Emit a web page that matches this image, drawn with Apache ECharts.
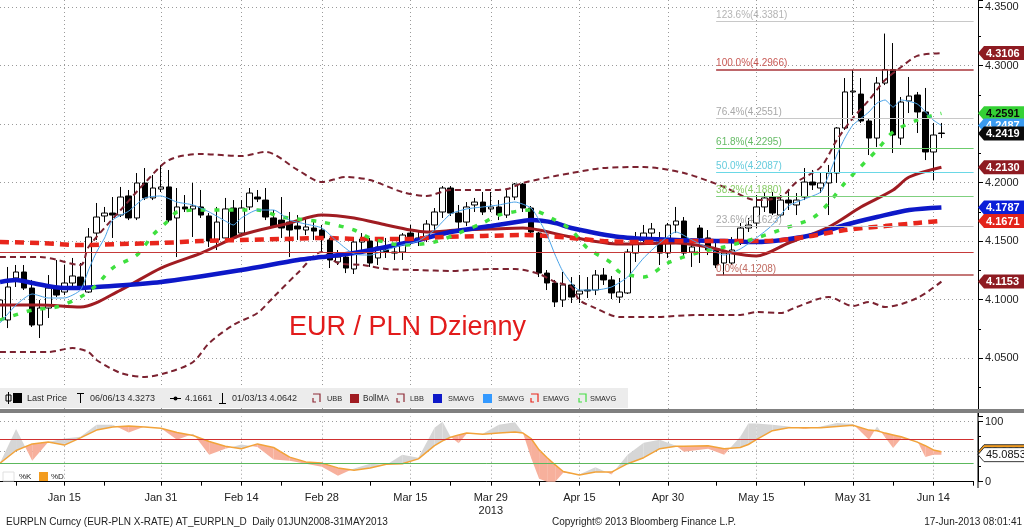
<!DOCTYPE html>
<html>
<head>
<meta charset="utf-8">
<title>EURPLN Curncy</title>
<script src="https://cdn.jsdelivr.net/npm/echarts@6.0.0/dist/echarts.min.js"></script>
<style>
html,body{margin:0;padding:0;background:#fff;}
#chart{width:1024px;height:530px;}
</style>
</head>
<body>
<div id="chart"></div>
<script>
// ================= DATA =================
// Trading days are weekdays of 2013 numbered with Jan 1 = 0; the x axis starts on day 2 (Jan 3).
const axisFirstDay = [2013, 0, 3];
const axisLastDay = [2013, 5, 21];
const monthNames = ['Jan','Feb','Mar','Apr','May','Jun','Jul','Aug','Sep','Oct','Nov','Dec'];
const labelDates = ['Jan 15','Jan 31','Feb 14','Feb 28','Mar 15','Mar 29','Apr 15','Apr 30','May 15','May 31','Jun 14'];
const minorTickDates = ['Jan 7','Jan 22','Feb 7','Feb 21','Mar 8','Mar 22','Apr 8','Apr 22','May 8','May 23','Jun 7','Jun 21'];
const yearUnderDate = 'Mar 29';
const yearText = '2013';

// Daily candles, Jan 3 .. Jun 17 2013
const candleOpen = [4.0825,4.0825,4.1184,4.1235,4.1098,4.0782,4.0927,4.1107,4.1064,4.1141,
4.1192,4.1064,4.1568,4.1714,4.1739,4.1722,4.1885,4.1697,4.1996,4.1868,
4.1944,4.1962,4.1697,4.1791,4.1774,4.1791,4.1714,4.1509,4.1526,4.1782,
4.1568,4.1791,4.1876,4.1850,4.1697,4.1679,4.1662,4.1628,4.1594,4.1611,
4.1594,4.1509,4.1321,4.1363,4.1261,4.1491,4.1500,4.1355,4.1423,4.1406,
4.1406,4.1568,4.1509,4.1526,4.1637,4.1748,4.1953,4.1739,4.1662,4.1808,
4.1833,4.1774,4.1791,4.1722,4.1876,4.1987,4.1782,4.1568,4.1226,4.1141,
4.0996,4.1124,4.1047,4.1081,4.1081,4.1209,4.1167,4.1021,4.1056,4.1397,
4.1526,4.1568,4.1491,4.1397,4.1637,4.1671,4.1406,4.1611,4.1526,4.1423,
4.1312,4.1312,4.1491,4.1611,4.1654,4.1791,4.1876,4.1722,4.1850,4.1808,
4.1876,4.2004,4.1953,4.1996,4.2081,4.2466,4.2774,4.2756,4.2526,4.2380,
4.2850,4.2966,4.2380,4.2697,4.2748,4.2603,4.2261,4.2423];
const candleClose = [4.0996,4.1107,4.1235,4.1098,4.0782,4.0927,4.1098,4.1038,4.1141,4.1201,
4.1107,4.1534,4.1705,4.1739,4.1722,4.1876,4.1697,4.1996,4.1868,4.1953,
4.1962,4.1679,4.1791,4.1774,4.1799,4.1722,4.1500,4.1662,4.1774,4.1526,
4.1782,4.1910,4.1859,4.1705,4.1628,4.1611,4.1594,4.1603,4.1620,4.1585,
4.1526,4.1338,4.1363,4.1269,4.1491,4.1517,4.1312,4.1449,4.1406,4.1397,
4.1551,4.1491,4.1526,4.1645,4.1748,4.1953,4.1739,4.1662,4.1791,4.1833,
4.1748,4.1791,4.1722,4.1876,4.1987,4.1782,4.1577,4.1226,4.1141,4.0979,
4.1124,4.1021,4.1073,4.1073,4.1209,4.1167,4.1056,4.1064,4.1406,4.1483,
4.1568,4.1603,4.1397,4.1637,4.1671,4.1397,4.1449,4.1526,4.1423,4.1295,
4.1397,4.1423,4.1611,4.1637,4.1791,4.1868,4.1739,4.1850,4.1825,4.1850,
4.2004,4.1979,4.1996,4.2081,4.2466,4.2774,4.2782,4.2526,4.2380,4.2850,
4.2966,4.2406,4.2688,4.2739,4.2603,4.2261,4.2406,4.2419];
const candleLow = [4.0642,4.0756,4.1107,4.1081,4.0765,4.0671,4.0842,4.1021,4.1038,4.1098,
4.1081,4.1056,4.1509,4.1662,4.1526,4.1705,4.1679,4.1679,4.1850,4.1850,
4.1919,4.1662,4.1363,4.1748,4.1534,4.1697,4.1449,4.1423,4.1509,4.1500,
4.1543,4.1765,4.1833,4.1679,4.1611,4.1526,4.1363,4.1509,4.1551,4.1509,
4.1406,4.1269,4.1295,4.1226,4.1218,4.1423,4.1278,4.1295,4.1355,4.1338,
4.1338,4.1466,4.1457,4.1491,4.1577,4.1697,4.1714,4.1568,4.1628,4.1748,
4.1722,4.1748,4.1679,4.1697,4.1850,4.1748,4.1543,4.1192,4.1081,4.0936,
4.0936,4.0970,4.0970,4.1013,4.1038,4.1124,4.1004,4.0970,4.1047,4.1321,
4.1491,4.1491,4.1295,4.1355,4.1568,4.1372,4.1278,4.1312,4.1380,4.1269,
4.1208,4.1295,4.1466,4.1577,4.1611,4.1748,4.1722,4.1697,4.1765,4.1722,
4.1850,4.1936,4.1910,4.1722,4.1996,4.2449,4.2577,4.2509,4.2235,4.2303,
4.2833,4.2252,4.2321,4.2594,4.2423,4.2192,4.2021,4.2380];
const candleHigh = [4.1064,4.1278,4.1295,4.1295,4.1167,4.0996,4.1209,4.1338,4.1295,4.1355,
4.1312,4.1611,4.1825,4.1791,4.1876,4.1962,4.1936,4.2081,4.2124,4.2064,
4.2150,4.2107,4.1953,4.1893,4.1996,4.1936,4.1739,4.1791,4.1868,4.1850,
4.1850,4.1953,4.1936,4.1953,4.1765,4.1876,4.1748,4.1722,4.1697,4.1662,
4.1637,4.1526,4.1423,4.1406,4.1534,4.1568,4.1526,4.1509,4.1526,4.1457,
4.1568,4.1637,4.1577,4.1679,4.1782,4.1970,4.1970,4.1808,4.1833,4.1868,
4.1919,4.1919,4.1850,4.1936,4.1996,4.1996,4.1799,4.1577,4.1252,4.1167,
4.1235,4.1192,4.1209,4.1192,4.1252,4.1269,4.1201,4.1184,4.1432,4.1577,
4.1637,4.1654,4.1577,4.1654,4.1791,4.1705,4.1491,4.1637,4.1594,4.1509,
4.1423,4.1534,4.1654,4.1697,4.1893,4.1919,4.1919,4.1893,4.1936,4.1910,
4.2124,4.2107,4.2081,4.2150,4.2474,4.2893,4.2962,4.2893,4.2551,4.2902,
4.3273,4.3192,4.2731,4.2902,4.2774,4.2808,4.2509,4.2509];

// Studies, read at the listed trading days
const ubbDays = [2,7,12,13,17,20,23,27,32,35,39,42,45,48,52,55,58,63,65,67,71,73,77,82,87,92,96,99,101,104,106,108,110,112,114,116,119];
const ubbVals = [4.1363,4.1363,4.1295,4.1449,4.1765,4.1996,4.2192,4.2244,4.2226,4.2261,4.2107,4.2004,4.2047,4.2021,4.1919,4.1885,4.1936,4.1936,4.1944,4.1996,4.2056,4.2081,4.2124,4.2132,4.2081,4.1962,4.1850,4.1876,4.2004,4.2132,4.2363,4.2551,4.2705,4.2876,4.2987,4.3082,4.3106];
const bollDays = [2,7,12,17,22,27,32,38,42,46,50,53,55,59,63,67,69,73,79,86,90,93,96,100,105,109,113,115,119];
const bollVals = [4.0953,4.0953,4.0936,4.1081,4.1269,4.1397,4.1551,4.1654,4.1722,4.1697,4.1637,4.1594,4.1577,4.1594,4.1603,4.1611,4.1594,4.1534,4.1474,4.1483,4.1449,4.1397,4.1372,4.1483,4.1620,4.1791,4.1936,4.2047,4.2130];
const lbbDays = [2,8,11,13,14,17,20,23,26,28,31,34,36,39,42,44,47,50,54,58,63,66,69,71,73,74,76,79,83,89,94,96,99,101,105,108,110,112,116,119];
const lbbVals = [4.0551,4.0551,4.0585,4.0551,4.0483,4.0372,4.0338,4.0380,4.0466,4.0628,4.0782,4.0885,4.1021,4.1226,4.1406,4.1312,4.1295,4.1261,4.1252,4.1244,4.1261,4.1261,4.1218,4.1150,4.1107,4.0996,4.0927,4.0850,4.0850,4.0868,4.0868,4.0893,4.0885,4.0936,4.1021,4.0944,4.0979,4.0936,4.1013,4.1153];
const smaBlueDays = [2,4,6,10,12,14,22,32,39,42,46,50,54,58,63,67,68,71,73,79,86,92,96,103,107,111,115,119];
const smaBlueVals = [4.1150,4.1167,4.1141,4.1098,4.1098,4.1107,4.1150,4.1252,4.1338,4.1363,4.1397,4.1449,4.1509,4.1577,4.1628,4.1671,4.1679,4.1654,4.1611,4.1534,4.1509,4.1500,4.1491,4.1551,4.1637,4.1705,4.1765,4.1787];
const smaLightDays = [2,4,6,8,10,12,13,14,15,16,18,20,22,24,26,28,30,31,32,34,36,38,40,42,44,46,48,50,52,54,56,58,60,62,64,66,68,69,70,71,72,74,76,78,80,82,84,86,88,90,92,94,96,98,100,102,104,105,106,107,108,110,111,112,113,114,116,118,119];
const smaLightVals = [4.0799,4.0953,4.1047,4.1013,4.1013,4.1081,4.1252,4.1406,4.1526,4.1679,4.1756,4.1868,4.1885,4.1833,4.1808,4.1748,4.1671,4.1637,4.1697,4.1765,4.1765,4.1679,4.1645,4.1611,4.1491,4.1389,4.1380,4.1423,4.1466,4.1500,4.1594,4.1731,4.1774,4.1791,4.1808,4.1833,4.1782,4.1679,4.1551,4.1380,4.1235,4.1081,4.1081,4.1107,4.1192,4.1355,4.1483,4.1577,4.1509,4.1440,4.1380,4.1432,4.1526,4.1637,4.1799,4.1859,4.1919,4.2064,4.2235,4.2380,4.2491,4.2603,4.2679,4.2705,4.2645,4.2705,4.2671,4.2534,4.2487];
const emaDays = [2,7,12,17,22,27,32,37,42,47,52,57,62,67,70,73,77,82,87,92,97,102,107,112,116,119];
const emaVals = [4.1491,4.1483,4.1466,4.1474,4.1483,4.1500,4.1509,4.1517,4.1526,4.1517,4.1517,4.1534,4.1543,4.1551,4.1543,4.1526,4.1500,4.1491,4.1500,4.1500,4.1500,4.1534,4.1594,4.1628,4.1654,4.1671];
const smaGreenDays = [2,6,9,12,14,16,19,21,23,24,27,32,34,37,42,46,48,52,56,59,62,64,68,71,73,75,78,79,82,85,89,92,96,100,103,105,107,111,113,116,119];
const smaGreenVals = [4.0825,4.0910,4.0936,4.1021,4.1124,4.1269,4.1380,4.1551,4.1679,4.1748,4.1765,4.1765,4.1765,4.1705,4.1662,4.1594,4.1526,4.1466,4.1491,4.1568,4.1654,4.1722,4.1765,4.1679,4.1594,4.1440,4.1312,4.1235,4.1192,4.1312,4.1406,4.1449,4.1526,4.1620,4.1697,4.1825,4.1996,4.2278,4.2432,4.2534,4.2591];

// Fibonacci retracement levels
const fibStartDay = 91;
const fibNames = ['123.6%','100.0%','76.4%','61.8%','50.0%','38.2%','23.6%','0.0%'];
const fibValues = [4.3381,4.2966,4.2551,4.2295,4.2087,4.1880,4.1623,4.1208];
const refLevel = 4.1365;

// Last-value tags on the price axis
const tagValues = [4.3106,4.2591,4.2487,4.2419,4.2130,4.1787,4.1671,4.1153];

// Stochastics panel
const stochDays = [2,4,6,8,10,12,14,16,18,20,22,24,26,28,30,32,34,36,38,40,42,44,46,48,50,52,54,56,57,58,59,60,62,64,66,67,68,69,70,71,72,74,76,78,80,82,84,86,87,90,92,94,95,96,98,100,102,104,106,108,110,111,112,113,114,116,117,118,119];
const stochK = [31,88,35,66,72,75,95,95,82,92,89,70,80,45,55,62,58,37,35,30,25,10,22,30,28,45,40,90,100,75,64,80,80,95,99,81,40,5,0,0,15,12,24,12,45,65,70,60,50,55,45,75,97,97,95,92,88,92,98,96,70,92,74,56,72,68,41,45,45.0853];
const stochD = [31,52,63,66,61,73,86,91,93,91,89,82,77,67,59,55,63,57,41,33,31,23,19,23,29,30,38,60,68,74,78,81,79,81,83,81,72,53,40,28,17,11,16,16,30,40,55,59,59,60,55,57,62,70,85,90,90,90,92,94,86,85,81,78,75,66,60,53,50];
const stochUpper = 70, stochLower = 30;

// Text
const legendTexts = ['Last Price','06/06/13 4.3273','4.1661','01/03/13 4.0642','UBB','BollMA','LBB','SMAVG','SMAVG','EMAVG','SMAVG'];
const titleText = 'EUR / PLN Dzienny';
const footerLeft = 'EURPLN Curncy (EUR-PLN X-RATE) AT_EURPLN_D  Daily 01JUN2008-31MAY2013';
const footerMid = 'Copyright\u00a9 2013 Bloomberg Finance L.P.';
const footerRight = '17-Jun-2013 08:01:41';

// ================= BUILD =================
const categories = [];
(function () {
  const d = new Date(Date.UTC(axisFirstDay[0], axisFirstDay[1], axisFirstDay[2]));
  const end = Date.UTC(axisLastDay[0], axisLastDay[1], axisLastDay[2]);
  while (d.getTime() <= end) {
    const w = d.getUTCDay();
    if (w !== 0 && w !== 6) categories.push(monthNames[d.getUTCMonth()] + ' ' + d.getUTCDate());
    d.setUTCDate(d.getUTCDate() + 1);
  }
})();
const DAY0 = 2;
const pairs = (days, vals) => days.map((d, j) => [d - DAY0, vals[j]]);

const FONT = '"Liberation Sans", Arial, sans-serif';
const AX_OFF = 4.4;
const GRID_W = 973.6;
const DOT = [1, 3];
const GRIDC = '#9a9a9a';

const fibLine = ['#c8c8c8','#a8343a','#c8c8c8','#6ccc6c','#6ad8e6','#7fd07f','#c4c4c4','#b04a4a'];
const fibText = ['#b4b4b4','#c85a55','#a8a8a8','#66bb66','#66ccdd','#88cc66','#a8a8a8','#c06a60'];
const tagFill = ['#8e1b22','#35d135','#3a9bf0','#0a0a0a','#8e1b22','#0a1ed8','#e3241b','#8e1b22'];
const tagTextC = ['#fff','#0a0a0a','#fff','#fff','#fff','#fff','#fff','#fff'];

function tagRenderer(fills, texts, strokes, font) {
  return function (params, api) {
    const v = api.value(1);
    const y = api.coord([0, v])[1];
    const x0 = params.coordSys.x + params.coordSys.width + AX_OFF;
    const h = 7, i = params.dataIndex;
    return { type: 'group', children: [
      { type: 'polygon', shape: { points: [[x0, y], [x0 + 6, y - h], [x0 + 70, y - h], [x0 + 70, y + h], [x0 + 6, y + h]] },
        style: { fill: fills[i], stroke: strokes ? strokes[i] : null, lineWidth: 1 } },
      { type: 'text', style: { text: v.toFixed(4), x: x0 + 8, y: y + 0.5, verticalAlign: 'middle', align: 'left', fill: texts[i], font: font } }
    ] };
  };
}

const fibMarks = fibValues.map((v, j) => [
  { coord: [fibStartDay - DAY0, v], lineStyle: { color: fibLine[j], width: (j === 1 || j === 7) ? 1.6 : 1.2, type: 'solid' },
    label: { show: true, position: 'insideStartTop', distance: [0, 1], formatter: fibNames[j] + '(' + v.toFixed(4) + ')',
             color: fibText[j], fontSize: 10, fontFamily: FONT } },
  { coord: [categories.length - 1, v] }
]);

const stochSegs = [];
for (let j = 0; j < stochDays.length - 1; j++) {
  stochSegs.push([stochDays[j] - DAY0, stochK[j], stochD[j], stochDays[j + 1] - DAY0, stochK[j + 1], stochD[j + 1]]);
}

function lineSeries(name, days, vals, color, width, type, smooth) {
  return { name, type: 'line', xAxisIndex: 0, yAxisIndex: 0, data: pairs(days, vals), symbol: 'none', smooth: smooth,
           lineStyle: { color, width, type }, silent: true, z: 3 };
}

const LY = 398.5;
function legText(t, x, size) { return { type: 'text', style: { text: t, x: x, y: LY, verticalAlign: 'middle', font: (size || 9) + 'px ' + FONT, fill: '#2a2a2a' }, z: 31 }; }
function legBracket(x, color) {
  return [
    { type: 'polyline', shape: { points: [[x, 394], [x + 7, 394], [x + 7, 402]] }, style: { stroke: color, lineWidth: 1.2, fill: 'none' }, z: 31 },
    { type: 'polyline', shape: { points: [[x, 398], [x, 402], [x + 3, 402]] }, style: { stroke: color, lineWidth: 1.2, fill: 'none' }, z: 31 }
  ];
}
const UP = 7.4; // the study names are set in a narrower face in the reference

const option = {
  animation: false,
  backgroundColor: '#ffffff',
  textStyle: { fontFamily: FONT },
  grid: [
    { left: 0, top: 0, width: GRID_W, height: 416.5 },
    { left: 0, top: 421.7, width: GRID_W, height: 60 }
  ],
  xAxis: [
    { type: 'category', gridIndex: 0, data: categories, boundaryGap: false,
      axisLine: { show: false }, axisTick: { show: false }, axisLabel: { show: false },
      splitLine: { show: true, interval: (i, v) => labelDates.includes(v), lineStyle: { color: GRIDC, type: DOT, width: 1 } } },
    { type: 'category', gridIndex: 1, data: categories, boundaryGap: false, offset: 6.3,
      axisLine: { show: true, lineStyle: { color: '#000', width: 1 } },
      axisTick: { show: true, length: 4, interval: (i, v) => labelDates.includes(v) || minorTickDates.includes(v), lineStyle: { color: '#000' } },
      axisLabel: { show: true, interval: (i, v) => labelDates.includes(v), color: '#222', fontSize: 11, fontFamily: FONT, margin: 3, lineHeight: 13,
                   formatter: v => v === yearUnderDate ? v + '\n' + yearText : v },
      splitLine: { show: true, interval: (i, v) => labelDates.includes(v), lineStyle: { color: GRIDC, type: DOT, width: 1 } } }
  ],
  yAxis: [
    { type: 'value', gridIndex: 0, position: 'right', offset: AX_OFF, min: 4.0, max: 4.356, interval: 0.05,
      axisLine: { show: true, lineStyle: { color: '#000' } },
      axisTick: { show: true, length: 5, lineStyle: { color: '#000' } },
      minorTick: { show: true, splitNumber: 2, length: 3, lineStyle: { color: '#000' } },
      axisLabel: { formatter: v => v.toFixed(4), color: '#222', fontSize: 11, fontFamily: FONT, margin: 7, showMinLabel: false, showMaxLabel: false },
      splitLine: { show: true, showMinLine: false, showMaxLine: false, lineStyle: { color: GRIDC, type: DOT, width: 1 } } },
    { type: 'value', gridIndex: 1, position: 'right', offset: AX_OFF, min: 0, max: 100, interval: 50,
      axisLine: { show: true, lineStyle: { color: '#000' } },
      axisTick: { show: true, length: 5, lineStyle: { color: '#000' } },
      minorTick: { show: true, splitNumber: 2, length: 3, lineStyle: { color: '#000' } },
      axisLabel: { formatter: v => v === 50 ? '' : String(v), color: '#222', fontSize: 11, fontFamily: FONT, margin: 7 },
      splitLine: { show: true, lineStyle: { color: GRIDC, type: DOT, width: 1 } } }
  ],
  series: [
    { name: 'Last Price', type: 'candlestick', xAxisIndex: 0, yAxisIndex: 0, barWidth: 6, silent: true, z: 2,
      data: candleOpen.map((o, k) => [o, candleClose[k], candleLow[k], candleHigh[k]]),
      itemStyle: { color: '#ffffff', color0: '#000000', borderColor: '#000000', borderColor0: '#000000', borderColorDoji: '#000000', borderWidth: 1 },
      markLine: { silent: true, symbol: ['none', 'none'], animation: false,
        data: [
          { yAxis: refLevel, lineStyle: { color: '#c63a3a', width: 1, type: 'solid' }, label: { show: false } }
        ].concat(fibMarks) } },
    lineSeries('UBB', ubbDays, ubbVals, '#7b2230', 2, [6, 4], 0.3),
    lineSeries('LBB', lbbDays, lbbVals, '#7b2230', 2, [6, 4], 0.3),
    lineSeries('BollMA', bollDays, bollVals, '#a01c22', 3, 'solid', 0.3),
    lineSeries('SMAVG', smaBlueDays, smaBlueVals, '#0d18c8', 4.5, 'solid', 0.3),
    lineSeries('EMAVG', emaDays, emaVals, '#e8261c', 4.5, [9, 6], 0.3),
    lineSeries('SMAVG', smaGreenDays, smaGreenVals, '#3fe03f', 3.5, [5, 9], 0.3),
    lineSeries('SMAVG', smaLightDays, smaLightVals, '#4aa3e8', 1, 'solid', 0.2),
    { name: 'tags', type: 'custom', xAxisIndex: 0, yAxisIndex: 0, clip: false, silent: true, z: 20,
      data: tagValues.map(v => [0, v]),
      renderItem: tagRenderer(tagFill, tagTextC, null, 'bold 11px ' + FONT) },
    // Stochastics
    { name: 'diff', type: 'custom', xAxisIndex: 1, yAxisIndex: 1, silent: true, z: 2, data: stochSegs,
      renderItem: function (params, api) {
        const i0 = api.value(0), k0 = api.value(1), d0 = api.value(2), i1 = api.value(3), k1 = api.value(4), d1 = api.value(5);
        const A = api.coord([i0, k0]), B = api.coord([i1, k1]), C = api.coord([i1, d1]), D = api.coord([i0, d0]);
        const s0 = k0 - d0, s1 = k1 - d1;
        const gray = '#d6d6d6', pink = '#f7b09c';
        const kids = [];
        if (s0 * s1 >= 0) {
          kids.push({ type: 'polygon', shape: { points: [A, B, C, D] }, style: { fill: (s0 + s1) >= 0 ? gray : pink } });
        } else {
          const t = s0 / (s0 - s1);
          const M = [A[0] + (B[0] - A[0]) * t, A[1] + (B[1] - A[1]) * t];
          kids.push({ type: 'polygon', shape: { points: [A, M, D] }, style: { fill: s0 > 0 ? gray : pink } });
          kids.push({ type: 'polygon', shape: { points: [M, B, C] }, style: { fill: s1 > 0 ? gray : pink } });
        }
        return { type: 'group', children: kids };
      } },
    { name: '%D', type: 'line', xAxisIndex: 1, yAxisIndex: 1, symbol: 'none', silent: true, z: 3,
      data: pairs(stochDays, stochD), lineStyle: { color: '#f2a33a', width: 1.5 },
      markLine: { silent: true, symbol: ['none', 'none'], label: { show: false },
        data: [ { yAxis: stochUpper, lineStyle: { color: '#d03030', width: 1, type: 'solid' } },
                { yAxis: stochLower, lineStyle: { color: '#5cb85c', width: 1, type: 'solid' } } ] } },
    { name: 'stochTags', type: 'custom', xAxisIndex: 1, yAxisIndex: 1, clip: false, silent: true, z: 20,
      data: [[0, stochD[stochD.length - 1]], [0, stochK[stochK.length - 1]]],
      renderItem: tagRenderer(['#f39c1e', '#ffffff'], ['#000', '#111'], ['#3a3a3a', '#3a3a3a'], '11px ' + FONT) }
  ],
  graphic: [
    // separator band between panels
    { type: 'rect', shape: { x: 0, y: 409, width: 1024, height: 4 }, style: { fill: '#808080' }, z: 30 },
    { type: 'line', shape: { x1: 978, y1: 413, x2: 978, y2: 488 }, style: { stroke: '#000', lineWidth: 1 }, z: 30 },
    // legend row
    { type: 'rect', shape: { x: 0, y: 388, width: 628, height: 20 }, style: { fill: '#ececec' }, z: 30 },
    { type: 'rect', shape: { x: 6, y: 395, width: 5, height: 6 }, style: { fill: 'none', stroke: '#000', lineWidth: 1 }, z: 31 },
    { type: 'line', shape: { x1: 8.5, y1: 392, x2: 8.5, y2: 404 }, style: { stroke: '#000', lineWidth: 1 }, z: 31 },
    { type: 'rect', shape: { x: 13, y: 393, width: 9, height: 10 }, style: { fill: '#000' }, z: 31 },
    legText(legendTexts[0], 27),
    { type: 'line', shape: { x1: 77, y1: 393.5, x2: 84, y2: 393.5 }, style: { stroke: '#000', lineWidth: 1 }, z: 31 },
    { type: 'line', shape: { x1: 80.5, y1: 393.5, x2: 80.5, y2: 403 }, style: { stroke: '#000', lineWidth: 1 }, z: 31 },
    legText(legendTexts[1], 90),
    { type: 'line', shape: { x1: 170, y1: 398.5, x2: 181, y2: 398.5 }, style: { stroke: '#000', lineWidth: 1 }, z: 31 },
    { type: 'circle', shape: { cx: 175.5, cy: 398.5, r: 2 }, style: { fill: '#000' }, z: 31 },
    legText(legendTexts[2], 185),
    { type: 'line', shape: { x1: 222.5, y1: 393, x2: 222.5, y2: 403 }, style: { stroke: '#000', lineWidth: 1 }, z: 31 },
    { type: 'line', shape: { x1: 219, y1: 403.5, x2: 226, y2: 403.5 }, style: { stroke: '#000', lineWidth: 1 }, z: 31 },
    legText(legendTexts[3], 232),
    ...legBracket(313, '#8e2a36'),
    legText(legendTexts[4], 327, UP),
    { type: 'rect', shape: { x: 350, y: 394, width: 9, height: 9 }, style: { fill: '#a01c22' }, z: 31 },
    legText(legendTexts[5], 363, 8.2),
    ...legBracket(397, '#8e2a36'),
    legText(legendTexts[6], 410, UP),
    { type: 'rect', shape: { x: 433, y: 394, width: 9, height: 9 }, style: { fill: '#0d18c8' }, z: 31 },
    legText(legendTexts[7], 448, UP),
    { type: 'rect', shape: { x: 483, y: 394, width: 9, height: 9 }, style: { fill: '#3399ff' }, z: 31 },
    legText(legendTexts[8], 498, UP),
    ...legBracket(531, '#e8261c'),
    legText(legendTexts[9], 543, UP),
    ...legBracket(579, '#44dd44'),
    legText(legendTexts[10], 590, UP),
    // stochastics legend
    { type: 'rect', shape: { x: 3, y: 472, width: 11, height: 9 }, style: { fill: '#fff', stroke: '#e0e0e0', lineWidth: 1 }, z: 31 },
    { type: 'text', style: { text: '%K', x: 19, y: 476.5, verticalAlign: 'middle', font: '8px ' + FONT, fill: '#222' }, z: 31 },
    { type: 'rect', shape: { x: 39, y: 472, width: 9, height: 9 }, style: { fill: '#f39c1e' }, z: 31 },
    { type: 'text', style: { text: '%D', x: 51, y: 476.5, verticalAlign: 'middle', font: '8px ' + FONT, fill: '#222' }, z: 31 },
    // title
    { type: 'text', style: { text: titleText, x: 289, y: 328, verticalAlign: 'middle', font: '27px ' + FONT, fill: '#e21b1b' }, z: 25 },
    // footer
    { type: 'text', style: { text: footerLeft, x: 6, y: 522, verticalAlign: 'middle', font: '10px ' + FONT, fill: '#222' }, z: 31 },
    { type: 'text', style: { text: footerMid, x: 552, y: 522, verticalAlign: 'middle', font: '10px ' + FONT, fill: '#222' }, z: 31 },
    { type: 'text', style: { text: footerRight, x: 1022, y: 522, verticalAlign: 'middle', align: 'right', font: '10px ' + FONT, fill: '#222' }, z: 31 }
  ]
};

const chart = echarts.init(document.getElementById('chart'), null, { renderer: 'canvas', width: 1024, height: 530 });
chart.setOption(option);
</script>
</body>
</html>
